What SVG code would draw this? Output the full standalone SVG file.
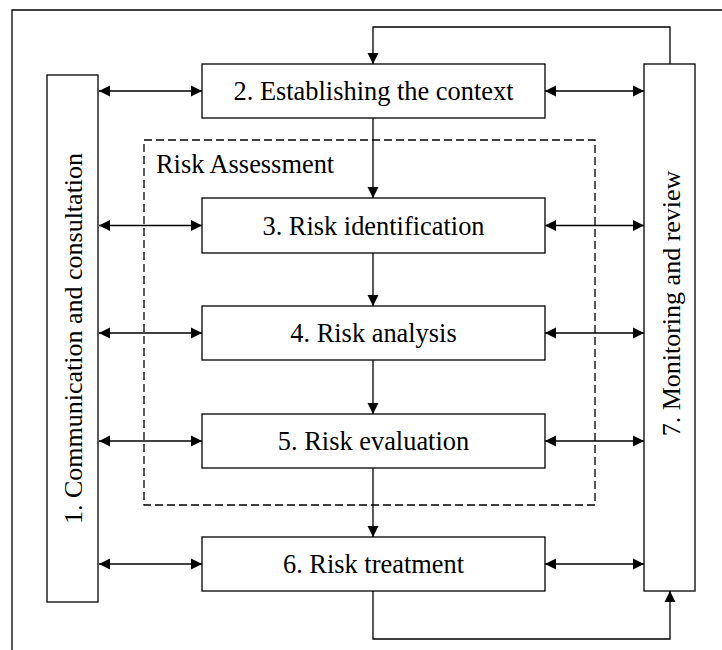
<svg xmlns="http://www.w3.org/2000/svg" width="722" height="650" viewBox="0 0 722 650">
<defs>
<marker id="ah" markerUnits="userSpaceOnUse" markerWidth="12" markerHeight="12" refX="11" refY="5.5" orient="auto-start-reverse" viewBox="0 0 12 11">
<path d="M0,0 L11,5.5 L0,11 z" fill="#000"/>
</marker>
<style>
.box{fill:#fff;stroke:#000;stroke-width:1.3}
.t{font-family:"Liberation Serif","Times New Roman",serif;font-size:26.4px;fill:#000}
.r{font-size:26px}
.c{text-anchor:middle}
.ln{fill:none;stroke:#000;stroke-width:1.3}
.dbl{marker-start:url(#ah);marker-end:url(#ah)}
.one{marker-end:url(#ah)}
</style>
</defs>
<rect width="722" height="650" fill="#fff"/>
<path d="M12,650 V10 H722" fill="none" stroke="#000" stroke-width="1.3"/>
<g id="risk-assessment">
<rect x="144" y="140" width="451" height="365" fill="none" stroke="#000" stroke-width="1.3" stroke-dasharray="8,4"/>
<text class="t" x="156" y="173">Risk Assessment</text>
</g>
<g id="connectors">
<path class="ln dbl" d="M99,91 H202"/>
<path class="ln dbl" d="M99,225.5 H202"/>
<path class="ln dbl" d="M99,333 H202"/>
<path class="ln dbl" d="M99,441 H202"/>
<path class="ln dbl" d="M99,564 H202"/>
<path class="ln dbl" d="M545,91 H644"/>
<path class="ln dbl" d="M545,225.5 H644"/>
<path class="ln dbl" d="M545,333 H644"/>
<path class="ln dbl" d="M545,441 H644"/>
<path class="ln dbl" d="M545,564 H644"/>
<path class="ln one" d="M373,118 V198"/>
<path class="ln one" d="M373,253 V306"/>
<path class="ln one" d="M373,360 V414"/>
<path class="ln one" d="M373,468 V537"/>
<path class="ln one" d="M670,64 V27 H373 V64"/>
<path class="ln one" d="M373,591 V639 H670 V591"/>
</g>
<g id="n1">
<rect class="box" x="47" y="75" width="51" height="527"/>
<text class="t r c" transform="translate(82,338.5) rotate(-90)">1. Communication and consultation</text>
</g>
<g id="n2">
<rect class="box" x="202" y="64" width="343" height="54"/>
<text class="t c" x="373.5" y="100">2. Establishing the context</text>
</g>
<g id="n3">
<rect class="box" x="202" y="198" width="343" height="55"/>
<text class="t c" x="373.5" y="234.5">3. Risk identification</text>
</g>
<g id="n4">
<rect class="box" x="202" y="306" width="343" height="54"/>
<text class="t c" x="373.5" y="342">4. Risk analysis</text>
</g>
<g id="n5">
<rect class="box" x="202" y="414" width="343" height="54"/>
<text class="t c" x="373.5" y="450">5. Risk evaluation</text>
</g>
<g id="n6">
<rect class="box" x="202" y="537" width="343" height="54"/>
<text class="t c" x="373.5" y="573">6. Risk treatment</text>
</g>
<g id="n7">
<rect class="box" x="644" y="64" width="51" height="527"/>
<text class="t r c" transform="translate(680,303.5) rotate(-90)">7. Monitoring and review</text>
</g>
</svg>
